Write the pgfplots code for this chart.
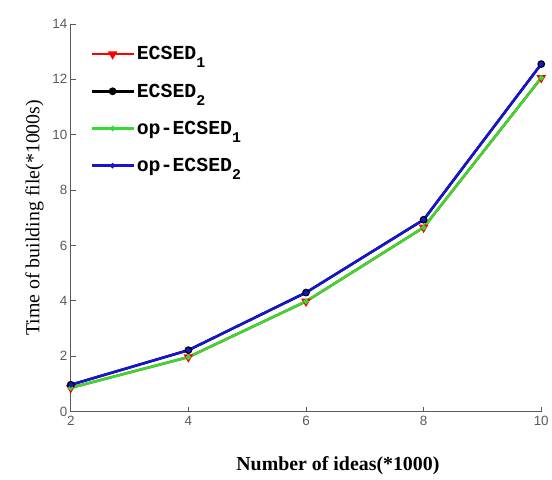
\documentclass[border=0pt]{standalone}
\usepackage{pgfplots}
\pgfplotsset{compat=1.18}
\usepackage{fontspec}
\setmainfont{Liberation Serif}
\setsansfont{Liberation Sans}
\newfontfamily\monob{Liberation Mono}[BoldFont=* Bold]
\definecolor{axgray}{RGB}{90,90,90}
\definecolor{lgreen}{RGB}{50,220,50}
\definecolor{lblue}{RGB}{20,20,210}
\newcommand{\sub}[1]{\raisebox{-0.75ex}{\fontsize{15}{15}\selectfont #1}}
\pgfplotstableread{
x s1 s2
2 0.86 0.97
4 1.97 2.22
6 3.98 4.30
8 6.65 6.93
10 12.05 12.55
}\data
\begin{document}
\begin{tikzpicture}
\begin{axis}[
  scale only axis,
  width=472bp, height=389bp,
  xmin=2, xmax=10, ymin=0, ymax=14,
  xtick={2,4,6,8,10}, ytick={0,2,4,6,8,10,12,14},
  axis x line*=bottom, axis y line*=left,
  axis line style={axgray, line width=1pt},
  every tick/.style={axgray, line width=0.8pt},
  major tick length=5bp,
  tick align=inside,
  tick label style={font=\sffamily\fontsize{13.5}{13.5}\selectfont, text=axgray},
  /pgf/number format/assume math mode=true,
  xticklabel style={yshift=-1bp},
  xlabel={\textbf{Number of ideas(*1000)}},
  ylabel={Time of building file(*1000s)},
  label style={font=\fontsize{20}{22}\selectfont},
  xlabel style={yshift=-24bp, xshift=32bp},
  ylabel style={yshift=2bp},
  legend style={draw=none, fill=none, at={(0.035,0.952)}, anchor=north west,
    font=\monob\bfseries\fontsize{20}{20}\selectfont, row sep=18.5bp,
    legend cell align=left, nodes={inner xsep=2bp}},
  legend image code/.code={\draw[#1, mark=none] plot coordinates {(0bp,0bp) (42bp,0bp)};
     \draw[#1, only marks] plot coordinates {(21bp,0bp)};},
]
\addplot[red, line width=2.5pt, mark=triangle*, mark size=3.2pt, mark options={rotate=180, solid}] table[x=x,y=s1]{\data};
\addlegendentry{ECSED\sub{1}}
\addplot[black, line width=2.5pt, mark=*, mark size=2.6pt] table[x=x,y=s2]{\data};
\addlegendentry{ECSED\sub{2}}
\addplot[lgreen, line width=2.5pt, mark=*, mark size=1.2pt] table[x=x,y=s1]{\data};
\addlegendentry{op-ECSED\sub{1}}
\addplot[lblue, line width=2.5pt, mark=*, mark size=1.2pt] table[x=x,y=s2]{\data};
\addlegendentry{op-ECSED\sub{2}}
\coordinate (ll) at (rel axis cs:0,0);
\coordinate (ur) at (rel axis cs:1,1);
\end{axis}
\path ([xshift=-71bp,yshift=-68bp]ll) rectangle ([xshift=9bp,yshift=24bp]ur);
\end{tikzpicture}
\end{document}
